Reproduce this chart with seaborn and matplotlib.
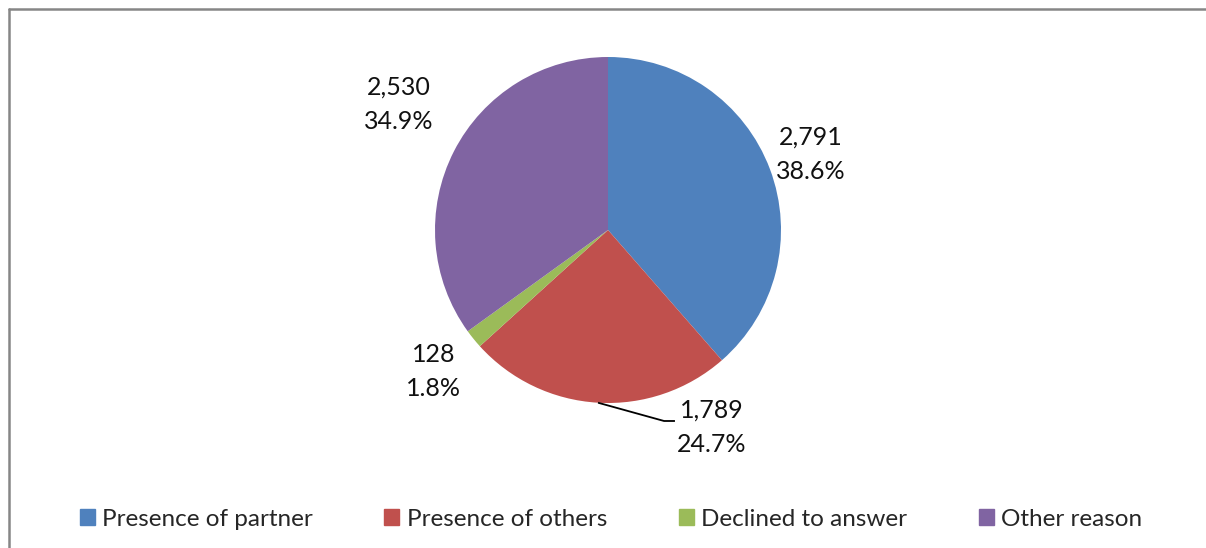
import matplotlib.pyplot as plt
import numpy as np
import seaborn as sns
from matplotlib.lines import Line2D

# data
categories = ["Presence of partner", "Presence of others", "Declined to answer", "Other reason"]
counts = [2791, 1789, 128, 2530]
percents = ["38.6%", "24.7%", "1.8%", "34.9%"]
colors = ["#4F81BD", "#C0504D", "#9BBB59", "#8064A2"]

sns.set_theme(style="white")
plt.rcParams["font.family"] = ["Lato", "DejaVu Sans"]

W, H = 1206, 548
fig = plt.figure(figsize=(W / 100, H / 100), dpi=100)

# pie centre (608, 230) px, radius 173 px
cx, cy, r = 608, 230, 173
ax = fig.add_axes([(cx - r) / W, 1 - (cy + r) / H, 2 * r / W, 2 * r / H])
wedges, _ = ax.pie(counts, colors=colors, startangle=90, counterclock=False,
                   radius=1.0, wedgeprops=dict(linewidth=0))
ax.set_xlim(-1, 1)
ax.set_ylim(-1, 1)
ax.set_aspect("auto")

fs = 18
label_dist = [1.25, None, 1.30, 1.41]
label_ang_shift = [0, 0, 0, -4]
for i, w in enumerate(wedges):
    mid = np.deg2rad((w.theta1 + w.theta2) / 2)
    text = f"{counts[i]:,}\n{percents[i]}"
    if label_dist[i] is None:
        # leader line to the label
        x0, y0 = np.cos(mid), np.sin(mid)
        ax.plot([x0, 0.324, 0.387], [y0, -1.104, -1.104], color="black",
                lw=1.3, clip_on=False, solid_capstyle="butt")
        ax.text(0.601, -1.14, text, ha="center", va="center", fontsize=fs,
                linespacing=1.6, color="#111111")
    else:
        a = mid + np.deg2rad(label_ang_shift[i])
        ax.text(label_dist[i] * np.cos(a), label_dist[i] * np.sin(a), text,
                ha="center", va="center", fontsize=fs, linespacing=1.6,
                color="#111111")

handles = [plt.Rectangle((0, 0), 1, 1, color=c) for c in colors]
fig.legend(handles, categories, loc="center", ncol=4,
           bbox_to_anchor=(611 / W, 1 - 519 / H), frameon=False, fontsize=17.5,
           handlelength=0.62, handleheight=0.62, handletextpad=0.3,
           columnspacing=2.95)

# chart border (partially visible)
fig.add_artist(Line2D([8.5 / W, 8.5 / W], [0, 1 - 8.5 / H], color="#868686", lw=1.8))
fig.add_artist(Line2D([8.5 / W, 1], [1 - 8.5 / H, 1 - 8.5 / H], color="#868686", lw=1.8))

fig.savefig("out.png", dpi=100)
